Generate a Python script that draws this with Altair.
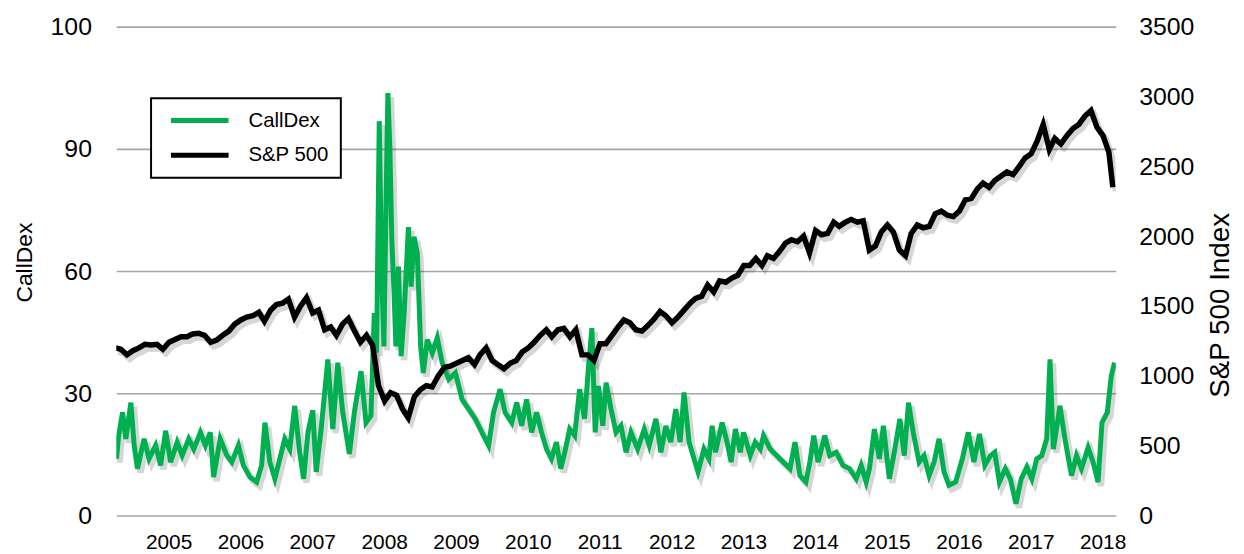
import altair as alt
import pandas as pd

FONT = "Liberation Sans"
SERIES = ["CallDex", "S&P 500"]
COLORS = ["#00B050", "#000000"]

YEAR_LABELS = list(range(2005, 2019))
CALLDEX_TICKS = [0, 30, 60, 90, 120]
SP_TICKS = [0, 500, 1000, 1500, 2000, 2500, 3000, 3500]

# S&P 500, mid-month levels Feb 2005 .. Dec 2018
sp_first_month = "2005-02-01"
sp_last_month = "2018-12-01"
sp_values = [
    1200, 1190, 1150, 1180, 1200, 1225, 1220, 1225, 1190, 1240, 1260,
    1280, 1280, 1300, 1305, 1290, 1240, 1255, 1290, 1320, 1370, 1400, 1420,
    1430, 1455, 1390, 1470, 1510, 1520, 1550, 1420, 1500, 1560, 1450, 1470,
    1330, 1350, 1290, 1370, 1410, 1320, 1240, 1290, 1220, 930, 820, 880,
    860, 760, 700, 850, 900, 930, 920, 1000, 1060, 1070, 1090, 1110,
    1130, 1080, 1150, 1200, 1110, 1080, 1050, 1090, 1110, 1170, 1200, 1240,
    1290, 1330, 1280, 1330, 1340, 1280, 1330, 1150, 1150, 1110, 1230, 1230,
    1290, 1350, 1400, 1380, 1330, 1320, 1360, 1405, 1460, 1430, 1380, 1420,
    1470, 1520, 1555, 1570, 1650, 1600, 1680, 1670, 1700, 1720, 1790, 1790,
    1840, 1790, 1860, 1840, 1890, 1950, 1975, 1960, 2000, 1880, 2040, 2010,
    2020, 2100, 2070, 2100, 2120, 2100, 2110, 1900, 1930, 2030, 2080, 2030,
    1900, 1860, 2020, 2080, 2060, 2070, 2160, 2180, 2150, 2140, 2180, 2260,
    2270, 2340, 2380, 2350, 2400, 2430, 2460, 2440, 2500, 2560, 2590, 2680,
    2800, 2620, 2700, 2660, 2720, 2770, 2800, 2860, 2900, 2780, 2720, 2600,
]
sp_end_date = "2019-01-04"
sp_end_value = 2350

# CallDex (fractional year, value)
calldex_t = [
    2005.140, 2005.170, 2005.224, 2005.270, 2005.340, 2005.386, 2005.432, 2005.524,
    2005.593, 2005.685, 2005.754, 2005.824, 2005.893, 2005.985, 2006.054, 2006.146,
    2006.216, 2006.308, 2006.377, 2006.446, 2006.492, 2006.584, 2006.677, 2006.746,
    2006.838, 2006.907, 2006.999, 2007.091, 2007.161, 2007.207, 2007.276, 2007.345,
    2007.414, 2007.483, 2007.553, 2007.622, 2007.691, 2007.746, 2007.806, 2007.866,
    2007.875, 2007.921, 2007.990, 2008.083, 2008.152, 2008.221, 2008.290, 2008.382,
    2008.451, 2008.544, 2008.613, 2008.682, 2008.728, 2008.760, 2008.797, 2008.829,
    2008.862, 2008.889, 2008.917, 2008.945, 2008.972, 2009.005, 2009.028, 2009.064,
    2009.101, 2009.143, 2009.203, 2009.240, 2009.281, 2009.327, 2009.373, 2009.410,
    2009.466, 2009.535, 2009.604, 2009.673, 2009.765, 2009.857, 2009.950, 2010.042,
    2010.134, 2010.226, 2010.319, 2010.388, 2010.480, 2010.549,
    2010.642, 2010.711, 2010.780, 2010.849, 2010.919, 2010.988, 2011.057, 2011.126,
    2011.195, 2011.264, 2011.324, 2011.380, 2011.449, 2011.518, 2011.587, 2011.656,
    2011.712, 2011.758, 2011.804, 2011.850, 2011.910, 2011.956, 2012.025, 2012.094,
    2012.163, 2012.233, 2012.302, 2012.394, 2012.486, 2012.555, 2012.648, 2012.717,
    2012.786, 2012.855, 2012.924, 2012.984, 2013.039, 2013.109, 2013.178, 2013.233,
    2013.316, 2013.385,
    2013.430, 2013.477, 2013.569, 2013.638, 2013.694, 2013.754, 2013.823, 2013.869,
    2013.961, 2014.030, 2014.100, 2014.146, 2014.238, 2014.330, 2014.422, 2014.515,
    2014.584, 2014.653, 2014.736, 2014.791, 2014.846, 2014.906, 2014.999, 2015.068,
    2015.160, 2015.252, 2015.344, 2015.437, 2015.506, 2015.575, 2015.621, 2015.690,
    2015.759, 2015.815, 2015.898, 2015.967, 2016.045, 2016.105, 2016.165, 2016.230,
    2016.312, 2016.381, 2016.451, 2016.520, 2016.589, 2016.658, 2016.727, 2016.819,
    2016.912, 2016.995, 2017.073, 2017.151, 2017.225, 2017.304, 2017.363, 2017.428,
    2017.511, 2017.580, 2017.659, 2017.732, 2017.811, 2017.880, 2017.949, 2018.018,
    2018.087, 2018.133, 2018.180, 2018.272, 2018.341, 2018.433, 2018.502, 2018.571,
    2018.664, 2018.733, 2018.802, 2018.857, 2018.931, 2018.986, 2019.032,
]
calldex_v = [
    13.9, 19.6, 25.3, 18.8, 27.7, 17.2, 11.5, 18.8,
    13.9, 17.2, 12.3, 20.8, 13.1, 18.0, 14.7, 18.8,
    16.3, 20.4, 17.2, 20.4, 9.4, 18.8, 14.7, 13.1,
    17.2, 12.3, 9.4, 8.2, 12.3, 22.8, 13.1, 9.0,
    13.9, 18.8, 16.3, 26.9, 15.5, 9.0, 20.4, 25.3,
    25.3, 10.7, 21.2, 38.3, 21.2, 37.5, 25.3, 15.1,
    25.3, 35.4, 22.8, 24.5, 49.7, 40.0, 96.8, 61.0,
    41.5, 74.0, 103.7, 90.0, 67.6, 53.7, 41.5, 61.1,
    39.1, 49.7, 70.8, 56.2, 68.4, 64.3, 41.5, 35.0,
    43.2, 39.9, 43.6, 37.5, 33.4, 35.0, 28.5, 26.1,
    23.7, 20.4, 17.2, 25.3, 31.0, 25.3,
    22.8, 27.7, 22.0, 28.5, 20.4, 25.3, 20.4, 16.3,
    13.9, 18.0, 11.5, 15.5, 21.2, 19.6, 31.0, 23.7,
    36.7, 46.0, 20.4, 31.8, 22.0, 32.6, 26.1, 20.4,
    22.0, 15.5, 20.4, 16.3, 21.2, 17.2, 23.7, 15.5,
    22.0, 18.0, 26.1, 18.0, 30.2, 18.0, 13.9, 10.7,
    16.3, 13.9,
    22.0, 15.5, 22.8, 18.0, 13.1, 21.2, 15.5, 20.4,
    14.7, 18.0, 16.3, 19.6, 16.3, 14.7, 13.1, 11.5,
    18.0, 9.8, 8.2, 13.1, 19.6, 13.1, 19.6, 14.7,
    15.5, 12.3, 11.5, 9.0, 12.3, 8.2, 11.5, 21.2,
    13.9, 22.0, 9.0, 15.5, 23.7, 14.7, 27.7, 20.4,
    13.1, 14.7, 9.8, 13.1, 18.8, 10.7, 7.4, 8.2,
    13.9, 20.4, 13.1, 20.0, 12.3, 14.7, 15.5, 8.2,
    11.5, 9.0, 2.9, 9.0, 11.9, 9.0, 13.9, 14.7,
    18.8, 38.3, 16.3, 26.9, 18.8, 9.8, 14.7, 11.5,
    16.7, 13.1, 8.2, 22.8, 25.3, 34.2, 37.5,
]


def frac_year_to_date(t):
    y = int(t)
    start = pd.Timestamp(year=y, month=1, day=1)
    end = pd.Timestamp(year=y + 1, month=1, day=1)
    return start + (end - start) * (t - y)


sp_dates = list(pd.date_range(sp_first_month, sp_last_month, freq="MS") + pd.Timedelta(days=14))
sp_df = pd.DataFrame({
    "date": sp_dates + [pd.Timestamp(sp_end_date)],
    "value": sp_values + [sp_end_value],
    "series": SERIES[1],
})
cd_df = pd.DataFrame({
    "date": [frac_year_to_date(t) for t in calldex_t],
    "value": calldex_v,
    "series": SERIES[0],
})

x_enc = alt.X(
    "date:T",
    scale=alt.Scale(domain=[alt.DateTime(year=2005, month=2, date=20),
                            alt.DateTime(year=2019, month=1, date=19)]),
    axis=alt.Axis(
        values=[alt.DateTime(year=y, month=11, date=13) for y in YEAR_LABELS],
        format="%Y", title=None, grid=False, domain=False, ticks=False,
        labelFontSize=21, labelPadding=16, labelFont=FONT, labelColor="black",
    ),
)

cd_scale = alt.Scale(domain=[0, 120], nice=False, zero=True)
sp_scale = alt.Scale(domain=[0, 3500], nice=False, zero=True)

color_enc = alt.Color(
    "series:N",
    scale=alt.Scale(domain=SERIES, range=COLORS),
    legend=alt.Legend(
        title=None, orient="none", legendX=35, legendY=72, direction="vertical",
        symbolType="M-0.31,0H6.94", symbolSize=256, symbolStrokeWidth=5,
        labelFontSize=20.5, labelFont=FONT, labelColor="black", labelOffset=65,
        rowPadding=14, padding=12, strokeColor="black", fillColor="white",
    ),
)

shadow_style = dict(color="#000000", opacity=0.16, strokeWidth=6.5, xOffset=3, yOffset=4, clip=True)

cd_shadow = alt.Chart(cd_df).mark_line(**shadow_style).encode(
    x=x_enc, y=alt.Y("value:Q", scale=cd_scale, axis=None)
)
sp_shadow = alt.Chart(sp_df).mark_line(**shadow_style).encode(
    x=x_enc, y=alt.Y("value:Q", scale=sp_scale, axis=None)
)

cd_line = alt.Chart(cd_df).mark_line(strokeWidth=5, clip=True).encode(
    x=x_enc,
    y=alt.Y(
        "value:Q", scale=cd_scale,
        axis=alt.Axis(
            orient="left", values=CALLDEX_TICKS,
            labelExpr="datum.value == 120 ? '100' : datum.label",
            title="CallDex", titleFont=FONT, titleFontSize=23, titleFontWeight="normal",
            titleAngle=270, titleX=-92, titleY=237, titleAlign="center", titleBaseline="middle",
            titleColor="black",
            labelFontSize=25, labelFont=FONT, labelPadding=25, labelColor="black",
            domain=False, ticks=False, grid=True, gridColor="#A6A6A6", gridWidth=1.6,
        ),
    ),
    color=color_enc,
)

sp_line = alt.Chart(sp_df).mark_line(strokeWidth=5.5, clip=True).encode(
    x=x_enc,
    y=alt.Y(
        "value:Q", scale=sp_scale,
        axis=alt.Axis(
            orient="right", values=SP_TICKS, format="d",
            title="S&P 500 Index", titleFont=FONT, titleFontSize=28, titleFontWeight="normal",
            titleAngle=270, titleX=105, titleY=280, titleAlign="center", titleBaseline="middle",
            titleColor="black",
            labelFontSize=25, labelFont=FONT, labelPadding=23, labelColor="black",
            labelAlign="left", domain=False, ticks=False, grid=False,
        ),
    ),
    color=color_enc,
)

chart = (
    alt.layer(cd_shadow, sp_shadow, cd_line, sp_line)
    .resolve_scale(y="independent")
    .properties(
        width=1006, height=492, autosize="none",
        padding={"left": 109, "top": 17, "right": 121, "bottom": 37},
    )
    .configure(font=FONT)
    .configure_view(stroke=None)
    .configure_legend(strokeWidth=2)
)

chart.save("out.html", embed_options={"renderer": "svg", "actions": False})
